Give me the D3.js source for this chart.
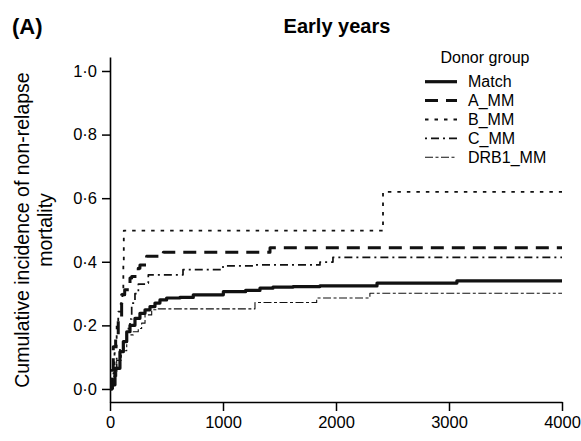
<!DOCTYPE html>
<html>
<head>
<meta charset="utf-8">
<script src="https://cdn.jsdelivr.net/npm/d3@7"></script>
<style>
  html, body { margin: 0; padding: 0; background: #fff; }
  svg { display: block; font-family: "Liberation Sans", Arial, Helvetica, sans-serif; }
</style>
</head>
<body>
<svg id="chart" width="581" height="441"></svg>
<script>
// ---- Data ----
const groups = ["Match", "A_MM", "B_MM", "C_MM", "DRB1_MM"];

const matchT = [0, 15, 44, 88, 118, 148, 177, 221, 265, 310, 354, 398, 442, 501, 619, 737, 1003, 1200, 1327, 1442, 1619, 1858, 2363, 3070, 4000];
const matchV = [0, 0.013, 0.065, 0.117, 0.149, 0.18, 0.2, 0.222, 0.238, 0.249, 0.259, 0.27, 0.28, 0.286, 0.288, 0.296, 0.306, 0.31, 0.317, 0.32, 0.322, 0.324, 0.333, 0.34, 0.34];

const aT = [0, 15, 29, 50, 73, 103, 130, 177, 192, 250, 265, 324, 472, 1416, 4000];
const aV = [0, 0.06, 0.133, 0.17, 0.217, 0.296, 0.312, 0.349, 0.354, 0.38, 0.39, 0.417, 0.43, 0.444, 0.444];

const bT = [0, 15, 40, 59, 73, 95, 110, 118, 122, 2416, 4000];
const bV = [0, 0.06, 0.113, 0.2, 0.243, 0.27, 0.3, 0.4, 0.498, 0.62, 0.62];

const cT = [0, 30, 59, 88, 118, 150, 177, 192, 221, 251, 324, 339, 646, 1000, 1267, 1858, 1973, 4000];
const cV = [0, 0.05, 0.1, 0.13, 0.149, 0.19, 0.22, 0.27, 0.3, 0.33, 0.333, 0.359, 0.375, 0.387, 0.39, 0.399, 0.414, 0.414];

const drbT = [0, 30, 59, 100, 148, 206, 250, 280, 310, 369, 427, 1283, 1829, 2300, 4000];
const drbV = [0, 0.04, 0.09, 0.12, 0.17, 0.18, 0.19, 0.207, 0.233, 0.249, 0.252, 0.272, 0.286, 0.301, 0.301];

const xTicks = [0, 1000, 2000, 3000, 4000];
const yTicks = [0, 0.2, 0.4, 0.6, 0.8, 1.0];

const titleText = "Early years";
const panelLabel = "(A)";
const yTitleLines = ["Cumulative incidence of non-relapse", "mortality"];
const legendTitle = "Donor group";

// ---- Styles ----
const styles = {
  "Match":   { width: 3.2, dash: null },
  "A_MM":    { width: 3,   dash: "13,8" },
  "B_MM":    { width: 1.8, dash: "3.5,6" },
  "C_MM":    { width: 1.7, dash: "2,4,8,4" },
  "DRB1_MM": { width: 1.1, dash: "8,2.5,3,2.5" }
};

const seriesData = [
  { name: "Match",   t: matchT, v: matchV },
  { name: "A_MM",    t: aT,     v: aV },
  { name: "B_MM",    t: bT,     v: bV },
  { name: "C_MM",    t: cT,     v: cV },
  { name: "DRB1_MM", t: drbT,   v: drbV }
];

const svg = d3.select("#chart");

const x = d3.scaleLinear().domain([0, 4000]).range([110, 562]);
const y = d3.scaleLinear().domain([-0.041, 1.044]).range([402, 57]);

const fmt = v => d3.format(".1f")(v).replace(".", "\u00B7");

// Y axis
const yAxis = svg.append("g")
  .attr("transform", "translate(110,0)")
  .call(d3.axisLeft(y).tickValues(yTicks).tickFormat(fmt).tickSize(8).tickSizeOuter(0).tickPadding(5));
yAxis.selectAll("text").attr("font-size", 16.5).attr("fill", "#000").attr("font-family", "Liberation Sans, Arial, sans-serif");
yAxis.selectAll("line").attr("stroke", "#000").attr("stroke-width", 1.5);
yAxis.select(".domain").attr("stroke", "#000").attr("stroke-width", 1.6);

// X axis
const xAxis = svg.append("g")
  .attr("transform", "translate(0,402)")
  .call(d3.axisBottom(x).tickValues(xTicks).tickFormat(d3.format("d")).tickSize(9).tickSizeOuter(0).tickPadding(5.5));
xAxis.selectAll("text").attr("font-size", 16.5).attr("fill", "#000").attr("font-family", "Liberation Sans, Arial, sans-serif");
xAxis.selectAll("line").attr("stroke", "#000").attr("stroke-width", 1.5);
xAxis.select(".domain").attr("stroke", "#000").attr("stroke-width", 1.6);

// Lines
const line = d3.line()
  .x(d => x(d[0]))
  .y(d => y(d[1]))
  .curve(d3.curveStepAfter);

seriesData.forEach(s => {
  const pts = s.t.map((t, i) => [t, s.v[i]]);
  const st = styles[s.name];
  svg.append("path")
    .datum(pts)
    .attr("d", line)
    .attr("fill", "none")
    .attr("stroke", "#111")
    .attr("stroke-width", st.width)
    .attr("stroke-dasharray", st.dash)
    .attr("stroke-linejoin", "round");
});

// Title & panel label
svg.append("text")
  .attr("x", 337).attr("y", 33)
  .attr("text-anchor", "middle")
  .attr("font-size", 20).attr("font-weight", "bold")
  .text(titleText);

svg.append("text")
  .attr("x", 12).attr("y", 34)
  .attr("font-size", 22).attr("font-weight", "bold")
  .text(panelLabel);

// Y title
yTitleLines.forEach((t, i) => {
  svg.append("text")
    .attr("transform", `translate(${28.5 + i * 23.5},230) rotate(-90)`)
    .attr("text-anchor", "middle")
    .attr("font-size", 19.5)
    .text(t);
});

// Legend
const leg = svg.append("g");
leg.append("text")
  .attr("x", 485).attr("y", 63)
  .attr("text-anchor", "middle")
  .attr("font-size", 16)
  .text(legendTitle);

const legY = d3.scalePoint().domain(groups).range([81.7, 157.3]);
groups.forEach(g => {
  const st = styles[g];
  const yy = legY(g);
  leg.append("line")
    .attr("x1", 425).attr("x2", 457)
    .attr("y1", yy).attr("y2", yy)
    .attr("stroke", "#111")
    .attr("stroke-width", st.width)
    .attr("stroke-dasharray", st.dash);
  leg.append("text")
    .attr("x", 468).attr("y", yy + 5.7)
    .attr("font-size", 16)
    .text(g);
});
</script>
</body>
</html>
